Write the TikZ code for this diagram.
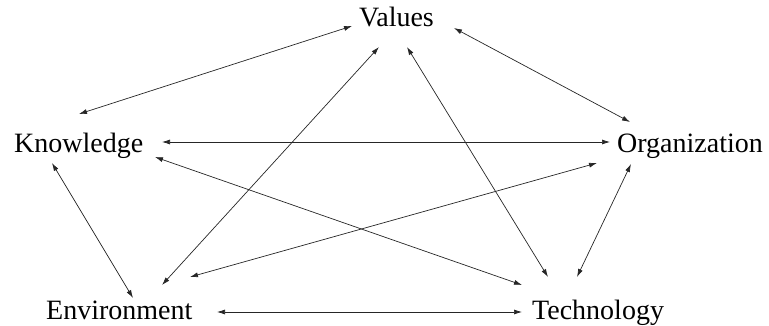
\documentclass[tikz,border=0pt]{standalone}
\usepackage{fontspec}
\setmainfont{Liberation Serif}
\usetikzlibrary{calc,arrows.meta}
\begin{document}
\begin{tikzpicture}[x=1pt,y=-1pt,
  lbl/.style={inner sep=0pt,anchor=base west,font=\fontsize{28}{30}\selectfont},
  link/.style={{Latex[length=8pt,width=5pt]}-{Latex[length=8pt,width=5pt]},line width=0.7pt,draw=black!85}]
\useasboundingbox (0,0) rectangle (769,326);
\node[lbl] (v) at (359,27) {Values};
\node[lbl] (k) at (14,153) {Knowledge};
\node[lbl] (o) at (617,153) {Organization};
\node[lbl] (e) at (46,319) {Environment};
\node[lbl] (t) at (532,319) {Technology};
% Values - Knowledge
\draw[link] ($(v.base west)+(-7,-1)$) -- ($(k.base west)+(65,-39)$);
% Values - Organization
\draw[link] ($(v.base west)+(95,1)$) -- ($(o.base west)+(13,-31)$);
% Values - Environment
\draw[link] ($(v.base west)+(20,20)$) -- ($(e.base west)+(116,-34)$);
% Values - Technology
\draw[link] ($(v.base west)+(48,20)$) -- ($(t.base west)+(16,-42)$);
% Knowledge - Organization
\draw[link] ($(k.base west)+(148,-11)$) -- ($(o.base west)+(-7,-11)$);
% Knowledge - Technology
\draw[link] ($(k.base west)+(141,4)$) -- ($(t.base west)+(-10,-34)$);
% Knowledge - Environment
\draw[link] ($(k.base west)+(38,10)$) -- ($(e.base west)+(87,-21)$);
% Organization - Environment
\draw[link] ($(o.base west)+(-20,10)$) -- ($(e.base west)+(144,-42)$);
% Organization - Technology
\draw[link] ($(o.base west)+(14,11)$) -- ($(t.base west)+(45,-42)$);
% Environment - Technology
\draw[link] ($(e.base west)+(171,-7)$) -- ($(t.base west)+(-10,-7)$);
\end{tikzpicture}
\end{document}
